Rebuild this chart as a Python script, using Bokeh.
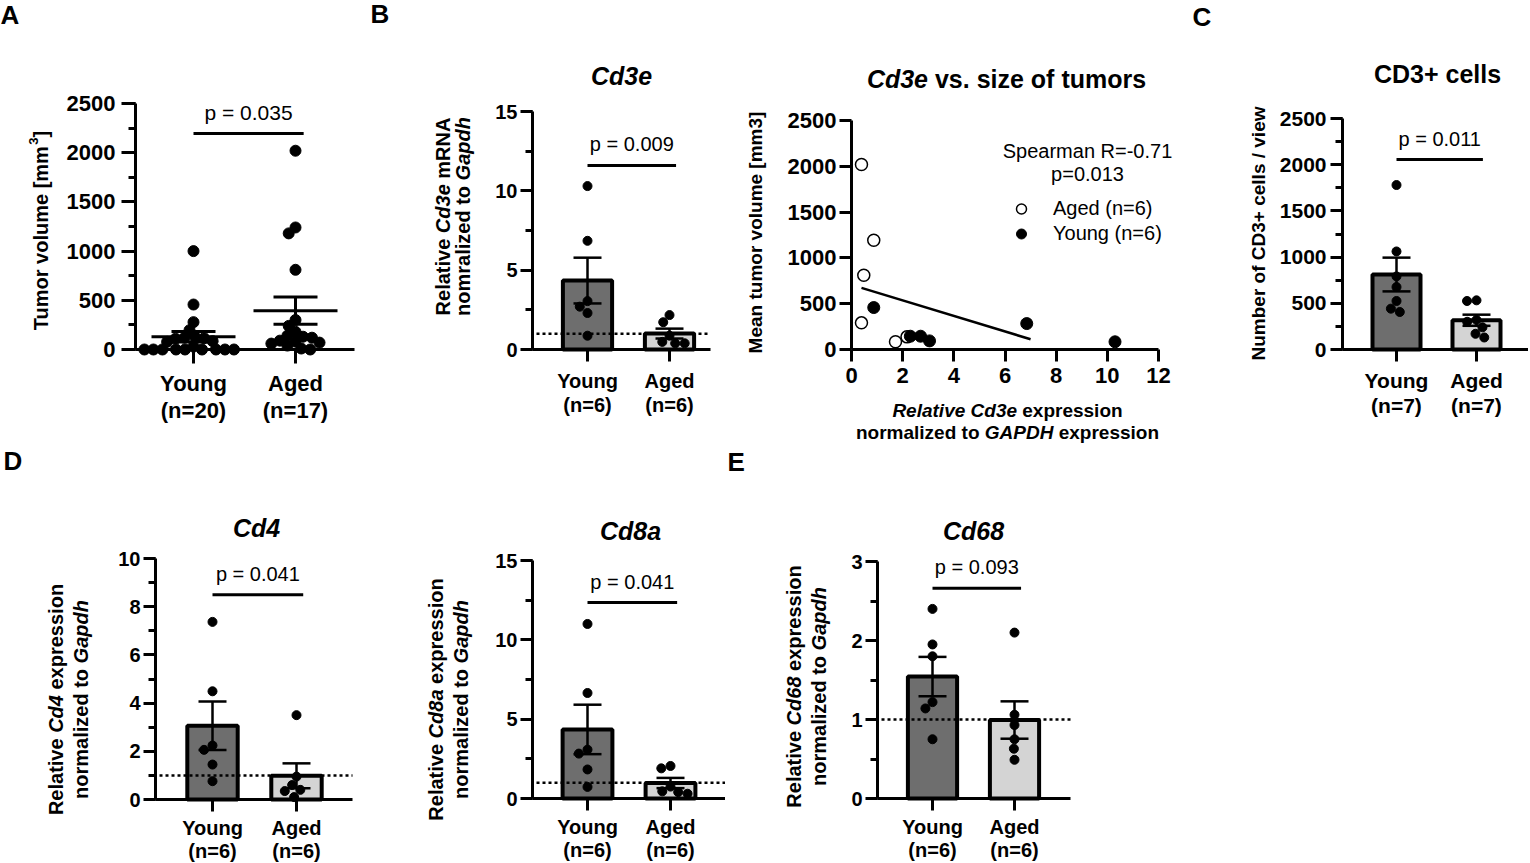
import numpy as np
from math import pi, sqrt
from bokeh.plotting import figure
from bokeh.models import (Range1d, Label, FixedTicker, SingleIntervalTicker,
                          Legend, LegendItem)
from bokeh.core.properties import value
from bokeh.layouts import row, column
from bokeh.embed import file_html
from bokeh.resources import INLINE

# ---------------- data ----------------
groups = ["Young", "Aged"]

tumor_young = [1000, 457, 278, 196, 125, 120, 115, 110, 85, 78, 30, 0, 0, 0, 0, 0, 0, 0, 0, 0]
tumor_aged = [2020, 1240, 1180, 810, 300, 240, 180, 140, 130, 120, 90, 80, 70, 60, 40, 10, 0]
p_tumor = "p = 0.035"

cd3e_young = [10.3, 6.85, 3.05, 2.7, 2.3, 0.87]
cd3e_aged = [2.17, 1.72, 0.87, 0.48, 0.39, 0.39]
p_cd3e = "p = 0.009"

meanvol_young = [84, 283, 94, 145, 145, 458]
meanvol_aged = [138, 84, 1192, 810, 2020, 291]
spearman_lines = ["Spearman R=-0.71", "p=0.013"]
fit_x_end = 7.0

cd3_young = [1780, 1061, 791, 676, 525, 442, 406]
cd3_aged = [532, 525, 320, 300, 240, 170, 130]
p_cd3 = "p = 0.011"

cd4_young = [7.37, 4.49, 2.24, 2.06, 1.45, 0.76]
cd4_aged = [3.5, 0.95, 0.6, 0.4, 0.35, 0.1]
p_cd4 = "p = 0.041"

cd8a_young = [11.0, 6.65, 3.08, 2.83, 1.83, 0.73]
cd8a_aged = [2.05, 1.9, 0.75, 0.45, 0.4, 0.3]
p_cd8a = "p = 0.041"

cd68_young = [2.40, 1.95, 1.80, 1.22, 1.14, 0.75]
cd68_aged = [2.10, 1.06, 0.93, 0.75, 0.63, 0.49]
p_cd68 = "p = 0.093"

reference_level = 1.0

# ---------------- styles ----------------
FONT = "Liberation Sans"
YOUNG_FILL = "#6e6e6e"
AGED_FILL = "#d4d4d4"
SIG_X = (1.0, 2.08)
TITLE = 25
LETTER = 26
YLAB = 20

BOLD_W = {' ': 278, '[': 333, ']': 333, '.': 278, '+': 584, '/': 278, '(': 333, ')': 333,
          'A': 722, 'C': 722, 'D': 722, 'G': 778, 'H': 722, 'N': 722, 'P': 667, 'R': 722,
          'T': 611, 'a': 556, 'c': 556, 'd': 611, 'e': 556, 'f': 333, 'g': 611, 'h': 611,
          'i': 278, 'l': 278, 'm': 889, 'n': 611, 'o': 611, 'p': 611, 'r': 389, 's': 556,
          't': 333, 'u': 611, 'v': 556, 'w': 778, 'x': 556, 'z': 500, 'b': 611, 'y': 556}
REG_W = {' ': 278, '=': 584, '-': 333, '.': 278, '(': 333, ')': 333, 'R': 722, 'S': 667,
         'a': 556, 'e': 556, 'm': 833, 'n': 556, 'p': 556, 'r': 333}


def tw(s, size, style):
    tab = REG_W if style == "normal" else BOLD_W
    return sum(tab.get(ch, 556) for ch in s) * size / 1000.0


class Geo:
    """Maps page pixels to data values; the frame covers the whole figure box."""
    def __init__(self, box, X_a, x_a, ppx, Y_a, y_a, ppy):
        self.fig_l, self.fig_r, self.fig_t, self.fig_b = box
        self.X_a, self.x_a, self.ppx = X_a, x_a, ppx
        self.Y_a, self.y_a, self.ppy = Y_a, y_a, ppy

    def x(self, X):
        return self.x_a + (X - self.X_a) / self.ppx

    def y(self, Y):
        return self.y_a + (self.Y_a - Y) / self.ppy


def group_geo(box, fl, fr, young_px, aged_px, ft, zero_px, top):
    g = Geo(box, young_px, 1.0, aged_px - young_px, zero_px, 0.0, (zero_px - ft) / top)
    g.fl, g.fr, g.top = fl, fr, top
    return g


def base_fig(g):
    p = figure(width=g.fig_r - g.fig_l, height=g.fig_b - g.fig_t,
               x_range=Range1d(g.x(g.fig_l), g.x(g.fig_r)),
               y_range=Range1d(g.y(g.fig_b), g.y(g.fig_t)),
               min_border_left=0, min_border_right=0, min_border_top=0, min_border_bottom=0,
               toolbar_location=None, output_backend="svg")
    p.title.visible = False
    p.outline_line_color = None
    p.xgrid.visible = False
    p.ygrid.visible = False
    p.background_fill_color = "white"
    p.border_fill_color = "white"
    return p


def style_axis(ax, fs, tick_out, standoff):
    ax.axis_line_width = 3
    ax.axis_line_color = "black"
    ax.major_tick_line_width = 3
    ax.minor_tick_line_width = 3
    ax.major_tick_line_color = "black"
    ax.minor_tick_line_color = "black"
    ax.major_tick_out = tick_out
    ax.major_tick_in = 0
    ax.minor_tick_out = 7
    ax.minor_tick_in = 0
    ax.major_label_text_font = FONT
    ax.major_label_text_font_size = f"{fs}px"
    ax.major_label_text_font_style = "bold"
    ax.major_label_text_color = "black"
    ax.major_label_standoff = standoff


def label(p, g, X, Y, text, size, style="bold", align="center", angle=0.0):
    p.add_layout(Label(x=g.x(X), y=g.y(Y), text=text, text_font=FONT,
                       text_font_size=f"{size}px", text_font_style=style,
                       text_align=align, text_baseline="middle", angle=angle,
                       text_color="black"))


def rich(p, g, X, Y, pieces, size, vertical=False):
    """Mixed-style line: each piece drawn as its own label, spaces as gaps."""
    items, total = [], 0.0
    for pc in pieces:
        t, st = pc[0], pc[1]
        sz = pc[2] if len(pc) > 2 else size
        sh = pc[3] if len(pc) > 3 else 0
        lead = tw(t[:len(t) - len(t.lstrip())], sz, st)
        items.append((t.strip(), st, sz, sh, total + lead))
        total += tw(t, sz, st)
    for t, st, sz, sh, off in items:
        if vertical:
            label(p, g, X + sh, Y + total / 2 - off, t, sz, st, "left", pi / 2)
        else:
            label(p, g, X - total / 2 + off, Y + sh, t, sz, st, "left", 0.0)


def swarm(vals, ppy, d):
    placed, out = [], []
    for v in vals:
        y = v * ppy
        cands = [0.0]
        for xp, yp in placed:
            dy = abs(y - yp)
            if dy < d:
                w = sqrt(d * d - dy * dy)
                cands += [xp - w, xp + w]
        best = 0.0
        for c in sorted(cands, key=lambda c: (round(abs(c), 6), c)):
            if all((c - xp) ** 2 + (y - yp) ** 2 >= d * d - 1e-6 for xp, yp in placed):
                best = c
                break
        placed.append((best, y))
        out.append(best)
    return np.array(out)


def group_panel(g, young, aged, ptxt, sig_y, step, kind, fs, tick_out, ystand,
                xstand, dot, ref_line, p_fs=20, line_h=1.1, gap=0.5):
    p = base_fig(g)
    ya, xa = p.yaxis[0], p.xaxis[0]
    style_axis(ya, fs, tick_out, ystand)
    ya.ticker = SingleIntervalTicker(interval=step, num_minor_ticks=2)
    ya.fixed_location = g.x(g.fl)
    ya.bounds = (0, g.top)
    style_axis(xa, fs, tick_out, xstand)
    xa.ticker = FixedTicker(ticks=[1, 2])
    xa.fixed_location = 0
    xa.bounds = (g.x(g.fl), g.x(g.fr))
    xa.major_label_overrides = {1: f"{groups[0]}\n(n={len(young)})",
                                2: f"{groups[1]}\n(n={len(aged)})"}
    xa.minor_tick_line_color = None
    xa.major_label_text_line_height = line_h

    for i, (vals, fill) in enumerate([(young, YOUNG_FILL), (aged, AGED_FILL)]):
        xc = i + 1
        arr = np.array(vals, dtype=float)
        m = arr.mean()
        s = arr.std(ddof=1) / sqrt(len(arr))
        if kind == "bar":
            p.vbar(x=[xc], top=[m], bottom=0, width=0.6, fill_color=fill,
                   line_color="black", line_width=4)
        offs = swarm(vals, g.ppy, dot + gap) / g.ppx
        p.scatter(xc + offs, arr, size=dot, marker="circle", color="black")
        if kind == "bar":
            cap, lw = 14 / g.ppx, 2.5
        else:
            cap, lw = 22 / g.ppx, 3
            half = 42 / g.ppx
            p.segment(x0=[xc - half], x1=[xc + half], y0=[m], y1=[m],
                      line_color="black", line_width=3)
        p.segment(x0=[xc, xc - cap, xc - cap], x1=[xc, xc + cap, xc + cap],
                  y0=[m - s, m - s, m + s], y1=[m + s, m - s, m + s],
                  line_color="black", line_width=lw)
    if ref_line:
        p.segment(x0=[g.x(g.fl + 4)], x1=[g.x(g.fr)], y0=[reference_level],
                  y1=[reference_level], line_color="black", line_width=2.5, line_dash="3 3")
    p.segment(x0=[SIG_X[0]], x1=[SIG_X[1]], y0=[sig_y], y1=[sig_y],
              line_color="black", line_width=3)
    p.add_layout(Label(x=(SIG_X[0] + SIG_X[1]) / 2, y=sig_y, y_offset=21, text=ptxt,
                       text_font=FONT, text_font_size=f"{p_fs}px", text_align="center",
                       text_baseline="middle", text_color="black"))
    return p


# ---------------- panel A ----------------
gA = group_geo((0, 370, 0, 445), 135, 354, 193, 295, 103, 349, 2500)
figA = group_panel(gA, tumor_young, tumor_aged, p_tumor, 2195, 500, "dot", 22, 14, 6, 7, 11,
                   False, 21, gap=-2.0)
rich(figA, gA, 40, 230, [("Tumor volume [mm", "bold"), ("3", "bold", 13, -7), ("]", "bold")], YLAB, True)
label(figA, gA, 0, 14, "A", LETTER, "bold", "left")

# ---------------- panel B (bars) ----------------
gB = group_geo((370, 715, 0, 445), 532, 710, 587, 669, 111, 349, 15)
figB = group_panel(gB, cd3e_young, cd3e_aged, p_cd3e, 11.6, 5, "bar", 20, 12, 3, 8, 9, True)
label(figB, gB, 621, 75, "Cd3e", TITLE, "bold italic")
rich(figB, gB, 442, 216, [("Relative ", "bold"), ("Cd3e", "bold italic"), (" mRNA", "bold")], YLAB, True)
rich(figB, gB, 462, 216, [("nomralized to ", "bold"), ("Gapdh", "bold italic")], YLAB, True)
label(figB, gB, 370, 13, "B", LETTER, "bold", "left")

# ---------------- panel B (scatter) ----------------
gS = Geo((715, 1180, 0, 445), 851, 0.0, (1158 - 851) / 12.0, 349, 0.0, (349 - 120) / 2500.0)
figS = base_fig(gS)
for ax in (figS.xaxis[0], figS.yaxis[0]):
    style_axis(ax, 22, 12, 3)
figS.xaxis[0].major_label_standoff = 6
figS.xaxis[0].ticker = SingleIntervalTicker(interval=2, num_minor_ticks=0)
figS.yaxis[0].ticker = SingleIntervalTicker(interval=500, num_minor_ticks=0)
figS.xaxis[0].minor_tick_line_color = None
figS.yaxis[0].minor_tick_line_color = None
figS.xaxis[0].fixed_location = 0
figS.yaxis[0].fixed_location = 0
figS.xaxis[0].bounds = (0, 12)
figS.yaxis[0].bounds = (0, 2500)
all_x = np.array(cd3e_young + cd3e_aged, dtype=float)
all_y = np.array(meanvol_young + meanvol_aged, dtype=float)
slope, icpt = np.polyfit(all_x, all_y, 1)
fx = np.array([all_x.min(), fit_x_end])
figS.line(fx, icpt + slope * fx, line_color="black", line_width=2.5)
r_aged = figS.scatter(cd3e_aged, meanvol_aged, size=12, marker="circle", fill_color="white",
                      line_color="black", line_width=1.5)
r_young = figS.scatter(cd3e_young, meanvol_young, size=12, marker="circle", fill_color="black",
                       line_color="black")
leg = Legend(items=[LegendItem(label=value(f"Aged (n={len(cd3e_aged)})"), renderers=[r_aged]),
                    LegendItem(label=value(f"Young (n={len(cd3e_young)})"), renderers=[r_young])],
             location=(291, 199), padding=0, margin=0, spacing=0, glyph_width=30,
             glyph_height=25, label_height=25, label_standoff=17,
             label_text_font=FONT, label_text_font_size="20px", label_text_color="black",
             border_line_color=None, background_fill_alpha=0)
figS.add_layout(leg)
label(figS, gS, 1087, 150, spearman_lines[0], 20, "normal")
label(figS, gS, 1087, 173, spearman_lines[1], 20, "normal")
rich(figS, gS, 1006, 78, [("Cd3e", "bold italic"), (" vs. size of tumors", "bold")], TITLE)
label(figS, gS, 755, 232, "Mean tumor volume [mm3]", 19, "bold", "center", pi / 2)
rich(figS, gS, 1007, 410, [("Relative Cd3e", "bold italic"), (" expression", "bold")], 19)
rich(figS, gS, 1007, 432, [("normalized to ", "bold"), ("GAPDH", "bold italic"),
                           (" expression", "bold")], 19)

# ---------------- panel C ----------------
gC = group_geo((1180, 1528, 0, 445), 1342, 1528, 1396, 1476, 118, 349, 2500)
figC = group_panel(gC, cd3_young, cd3_aged, p_cd3, 2056, 500, "bar", 21, 12, 4, 7, 9, False)
label(figC, gC, 1437, 73, "CD3+ cells", TITLE, "bold")
label(figC, gC, 1258, 233, "Number of CD3+ cells / view", 19, "bold", "center", pi / 2)
label(figC, gC, 1192, 16, "C", LETTER, "bold", "left")

# ---------------- panel D: Cd4 ----------------
g4 = group_geo((0, 375, 445, 862), 155, 352, 212, 296, 558, 799, 10)
fig4 = group_panel(g4, cd4_young, cd4_aged, p_cd4, 8.5, 2, "bar", 20, 12, 3, 5, 9, True, line_h=1.05)
label(fig4, g4, 256, 527, "Cd4", TITLE, "bold italic")
rich(fig4, g4, 55, 699, [("Relative ", "bold"), ("Cd4", "bold italic"), (" expression", "bold")], YLAB, True)
rich(fig4, g4, 80, 699, [("normalized to ", "bold"), ("Gapdh", "bold italic")], YLAB, True)
label(fig4, g4, 3, 460, "D", LETTER, "bold", "left")

# ---------------- panel D: Cd8a ----------------
g8 = group_geo((375, 725, 445, 862), 532, 725, 587, 670, 560, 798, 15)
fig8 = group_panel(g8, cd8a_young, cd8a_aged, p_cd8a, 12.35, 5, "bar", 20, 12, 3, 5, 9, True, line_h=1.05)
label(fig8, g8, 630, 530, "Cd8a", TITLE, "bold italic")
rich(fig8, g8, 435, 699, [("Relative ", "bold"), ("Cd8a", "bold italic"), (" expression", "bold")], YLAB, True)
rich(fig8, g8, 460, 699, [("normalized to ", "bold"), ("Gapdh", "bold italic")], YLAB, True)

# ---------------- panel E: Cd68 ----------------
g68 = group_geo((725, 1100, 445, 862), 877, 1070, 932, 1014, 561, 798, 3)
fig68 = group_panel(g68, cd68_young, cd68_aged, p_cd68, 2.66, 1, "bar", 20, 12, 3, 5, 9, True, line_h=1.05)
label(fig68, g68, 973, 530, "Cd68", TITLE, "bold italic")
rich(fig68, g68, 793, 686, [("Relative ", "bold"), ("Cd68", "bold italic"), (" expression", "bold")], YLAB, True)
rich(fig68, g68, 818, 686, [("normalized to ", "bold"), ("Gapdh", "bold italic")], YLAB, True)
label(fig68, g68, 727, 461, "E", LETTER, "bold", "left")

layout = column(row(figA, figB, figS, figC), row(fig4, fig8, fig68))

with open("out.html", "w") as f:
    f.write(file_html(layout, INLINE))
